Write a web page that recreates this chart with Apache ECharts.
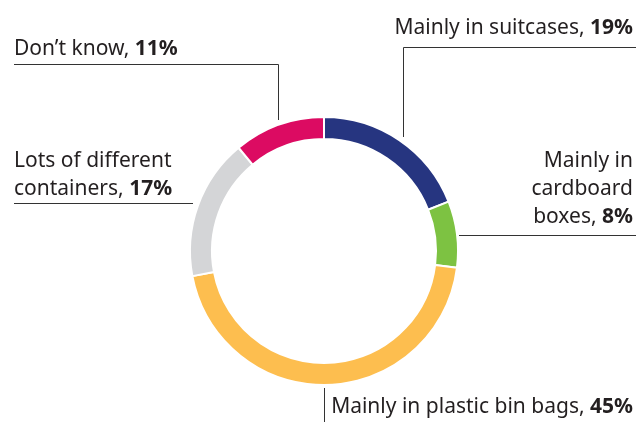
<!DOCTYPE html>
<html><head><meta charset="utf-8">
<script src="https://cdn.jsdelivr.net/npm/echarts@6/dist/echarts.min.js"></script>
<style>html,body{margin:0;padding:0;background:#fff}#c{width:636px;height:422px}</style>
</head><body><div id="c"></div>
<script>
const categories = ['Mainly in suitcases', 'Mainly in cardboard boxes', 'Mainly in plastic bin bags', 'Lots of different containers', 'Don\u2019t know'];
const labelTexts = ['Mainly in suitcases, ', 'Mainly in\ncardboard\nboxes, ', 'Mainly in plastic bin bags, ', 'Lots of different\ncontainers, ', 'Don\u2019t know, '];
const values = [19, 8, 45, 17, 11];
const colors = ['#263580', '#7dc242', '#fdbe4f', '#d4d5d7', '#dc0b62'];

// label placement: [x, y(top), align, line points]
const layouts = [
  {x: 633, y: 14, align: 'right', pts: [[403.5, 137], [403.5, 47.5], [636, 47.5]]},
  {x: 633, y: 147, align: 'right', pts: [[459, 235.5], [540, 235.5], [636, 235.5]]},
  {x: 633, y: 393, align: 'right', pts: [[324.5, 388], [324.5, 405], [324.5, 422]]},
  {x: 14, y: 147, align: 'left', pts: [[193, 203.5], [100, 203.5], [14, 203.5]]},
  {x: 14, y: 35, align: 'left', pts: [[278.5, 120], [278.5, 64.5], [14, 64.5]]}
];

const FONT = 'Noto Sans';
const chart = echarts.init(document.getElementById('c'), null, {renderer: 'canvas'});
chart.setOption({
  animation: false,
  series: [{
    type: 'pie',
    center: [324, 251],
    radius: [112, 134],
    startAngle: 90,
    clockwise: true,
    avoidLabelOverlap: false,
    itemStyle: {borderColor: '#fff', borderWidth: 2},
    emphasis: {disabled: true},
    label: {
      show: true,
      overflow: 'none',
      color: '#231f20',
      fontFamily: FONT,
      fontSize: 21,
      lineHeight: 28,
      formatter: p => labelTexts[p.dataIndex] + '{b|' + p.value + '%}',
      rich: {b: {fontWeight: 'bold', fontFamily: FONT, fontSize: 21, color: '#231f20', lineHeight: 28}}
    },
    labelLine: {show: true, lineStyle: {color: '#333', width: 1}},
    labelLayout: p => {
      const L = layouts[p.dataIndex];
      return {x: L.x, y: L.y, align: L.align, verticalAlign: 'top', labelLinePoints: L.pts};
    },
    data: categories.map((c, i) => ({name: c, value: values[i], itemStyle: {color: colors[i]}}))
  }]
});
</script></body></html>
